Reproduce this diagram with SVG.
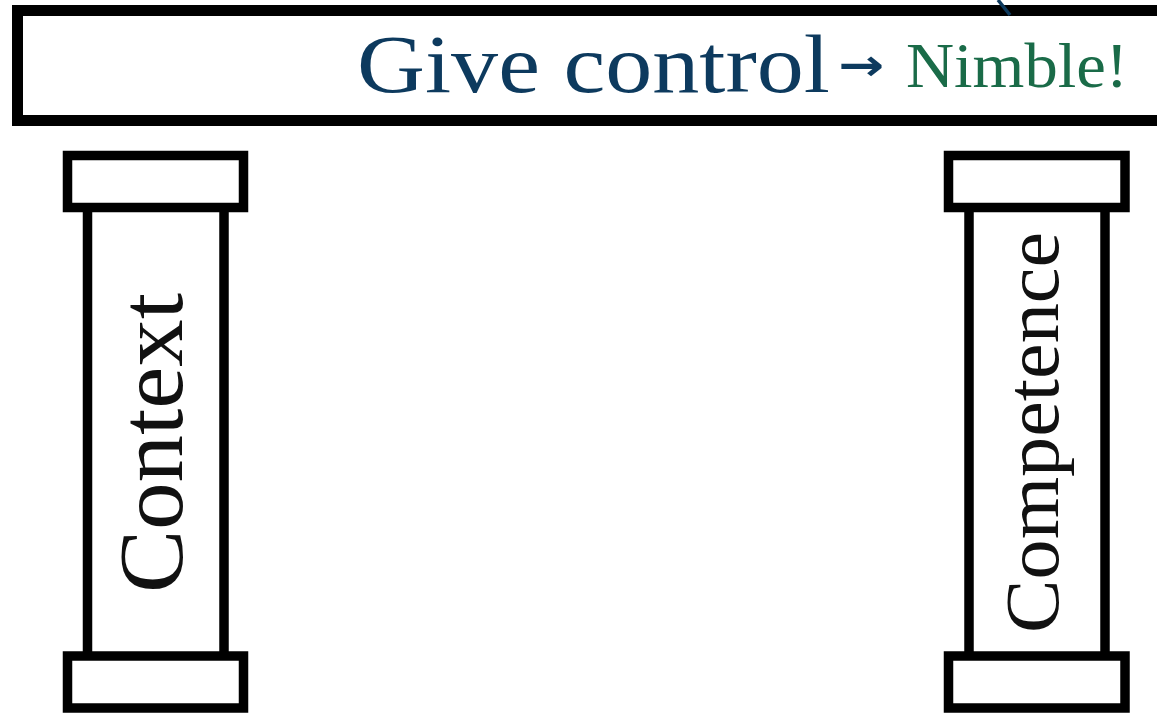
<svg xmlns="http://www.w3.org/2000/svg" width="1157" height="713" viewBox="0 0 1157 713">
<style>
.box{fill:#fff;stroke:#000;stroke-width:9.5}
.lbl{font-family:"Liberation Serif","DejaVu Serif",serif;fill:#111}
</style>
<rect width="1157" height="713" fill="#fff"/>
<g id="banner">
<rect x="17.5" y="10.5" width="1160" height="110" fill="#fff" stroke="#000" stroke-width="11"/>
<text x="357" y="92" font-family="'Liberation Serif','DejaVu Serif',serif" font-size="82" fill="#0d3a5e" textLength="473" lengthAdjust="spacingAndGlyphs">Give control</text>
<text x="838" y="80" font-family="'DejaVu Sans','Liberation Sans',sans-serif" font-size="44" font-weight="bold" fill="#0d3a5e" textLength="46" lengthAdjust="spacingAndGlyphs">→</text>
<text x="906" y="87" font-family="'Liberation Serif','DejaVu Serif',serif" font-size="63" fill="#1a6b48" textLength="222" lengthAdjust="spacingAndGlyphs">Nimble!</text>
</g>
<g id="connectors">
<line x1="998" y1="0" x2="1010" y2="15" stroke="#0d3a5e" stroke-width="3.5"/>
</g>
<g id="pillar-context">
<rect class="box" x="87.5" y="200" width="136.5" height="460"/>
<rect class="box" x="67.5" y="155.5" width="176" height="52"/>
<rect class="box" x="67.5" y="656" width="176" height="52"/>
<text class="lbl" transform="translate(182,593) rotate(-90)" font-size="90" textLength="300" lengthAdjust="spacingAndGlyphs">Context</text>
</g>
<g id="pillar-competence">
<rect class="box" x="969" y="200" width="136" height="460"/>
<rect class="box" x="948.5" y="155.5" width="176.5" height="52"/>
<rect class="box" x="948.5" y="656" width="176.5" height="52"/>
<text class="lbl" transform="translate(1058,633) rotate(-90)" font-size="76" textLength="401" lengthAdjust="spacingAndGlyphs">Competence</text>
</g>
</svg>
